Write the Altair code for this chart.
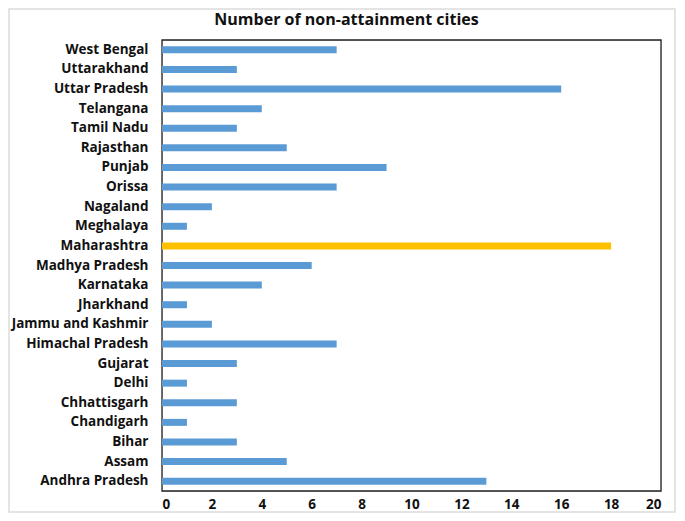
import altair as alt
import pandas as pd

states = ["West Bengal", "Uttarakhand", "Uttar Pradesh", "Telangana", "Tamil Nadu",
          "Rajasthan", "Punjab", "Orissa", "Nagaland", "Meghalaya", "Maharashtra",
          "Madhya Pradesh", "Karnataka", "Jharkhand", "Jammu and Kashmir",
          "Himachal Pradesh", "Gujarat", "Delhi", "Chhattisgarh", "Chandigarh",
          "Bihar", "Assam", "Andhra Pradesh"]
cities = [7, 3, 16, 4, 3, 5, 9, 7, 2, 1, 18, 6, 4, 1, 2, 7, 3, 1, 3, 1, 3, 5, 13]
highlight = ["Maharashtra"]
title_text = ["Number of non-attainment cities"]

df = pd.DataFrame({"state": states, "cities": cities})
df["hl"] = ["yes" if s in highlight else "no" for s in states]

W, H = 499, 451
FONT = "Open Sans"

bars = alt.Chart(df).mark_bar(size=7).encode(
    y=alt.Y("state:N", sort=states, title=None,
            axis=alt.Axis(labelFont=FONT, labelFontWeight="bold", labelFontSize=13.5,
                          labelColor="#111", ticks=False, domain=False, labelPadding=14)),
    x=alt.X("cities:Q", scale=alt.Scale(domain=[0, 20], nice=False), title=None,
            axis=alt.Axis(values=list(range(0, 21, 2)), labelFont=FONT,
                          labelFontWeight="bold", labelFontSize=13.5, labelColor="#111",
                          ticks=False, domain=False, grid=False, labelPadding=6)),
    color=alt.Color("hl:N", scale=alt.Scale(domain=["no", "yes"],
                                             range=["#5B9BD5", "#FFC000"]), legend=None),
)

one = pd.DataFrame({"t": title_text})

frame = alt.Chart(one).mark_rect(fill=None, stroke="#222", strokeWidth=1.3).encode(
    x=alt.value(0), x2=alt.value(W), y=alt.value(0), y2=alt.value(H))

border = alt.Chart(one).mark_rect(fill=None, stroke="#dcdcdc", strokeWidth=1.5).encode(
    x=alt.value(-153), x2=alt.value(W + 14), y=alt.value(-31), y2=alt.value(H + 21))

title = alt.Chart(one).mark_text(font=FONT, fontSize=16, fontWeight="bold",
                                 color="#111", align="center", baseline="middle").encode(
    text="t:N", x=alt.value(W / 2 - 65), y=alt.value(-20))

chart = alt.layer(border, frame, bars, title).properties(
    width=W, height=H,
    autosize=alt.AutoSizeParams(type="none"),
    padding={"left": 154, "top": 32, "right": 15, "bottom": 22},
).configure_view(stroke=None).configure(background="white")

chart.save("out.html", embed_options={"renderer": "svg", "actions": False})
